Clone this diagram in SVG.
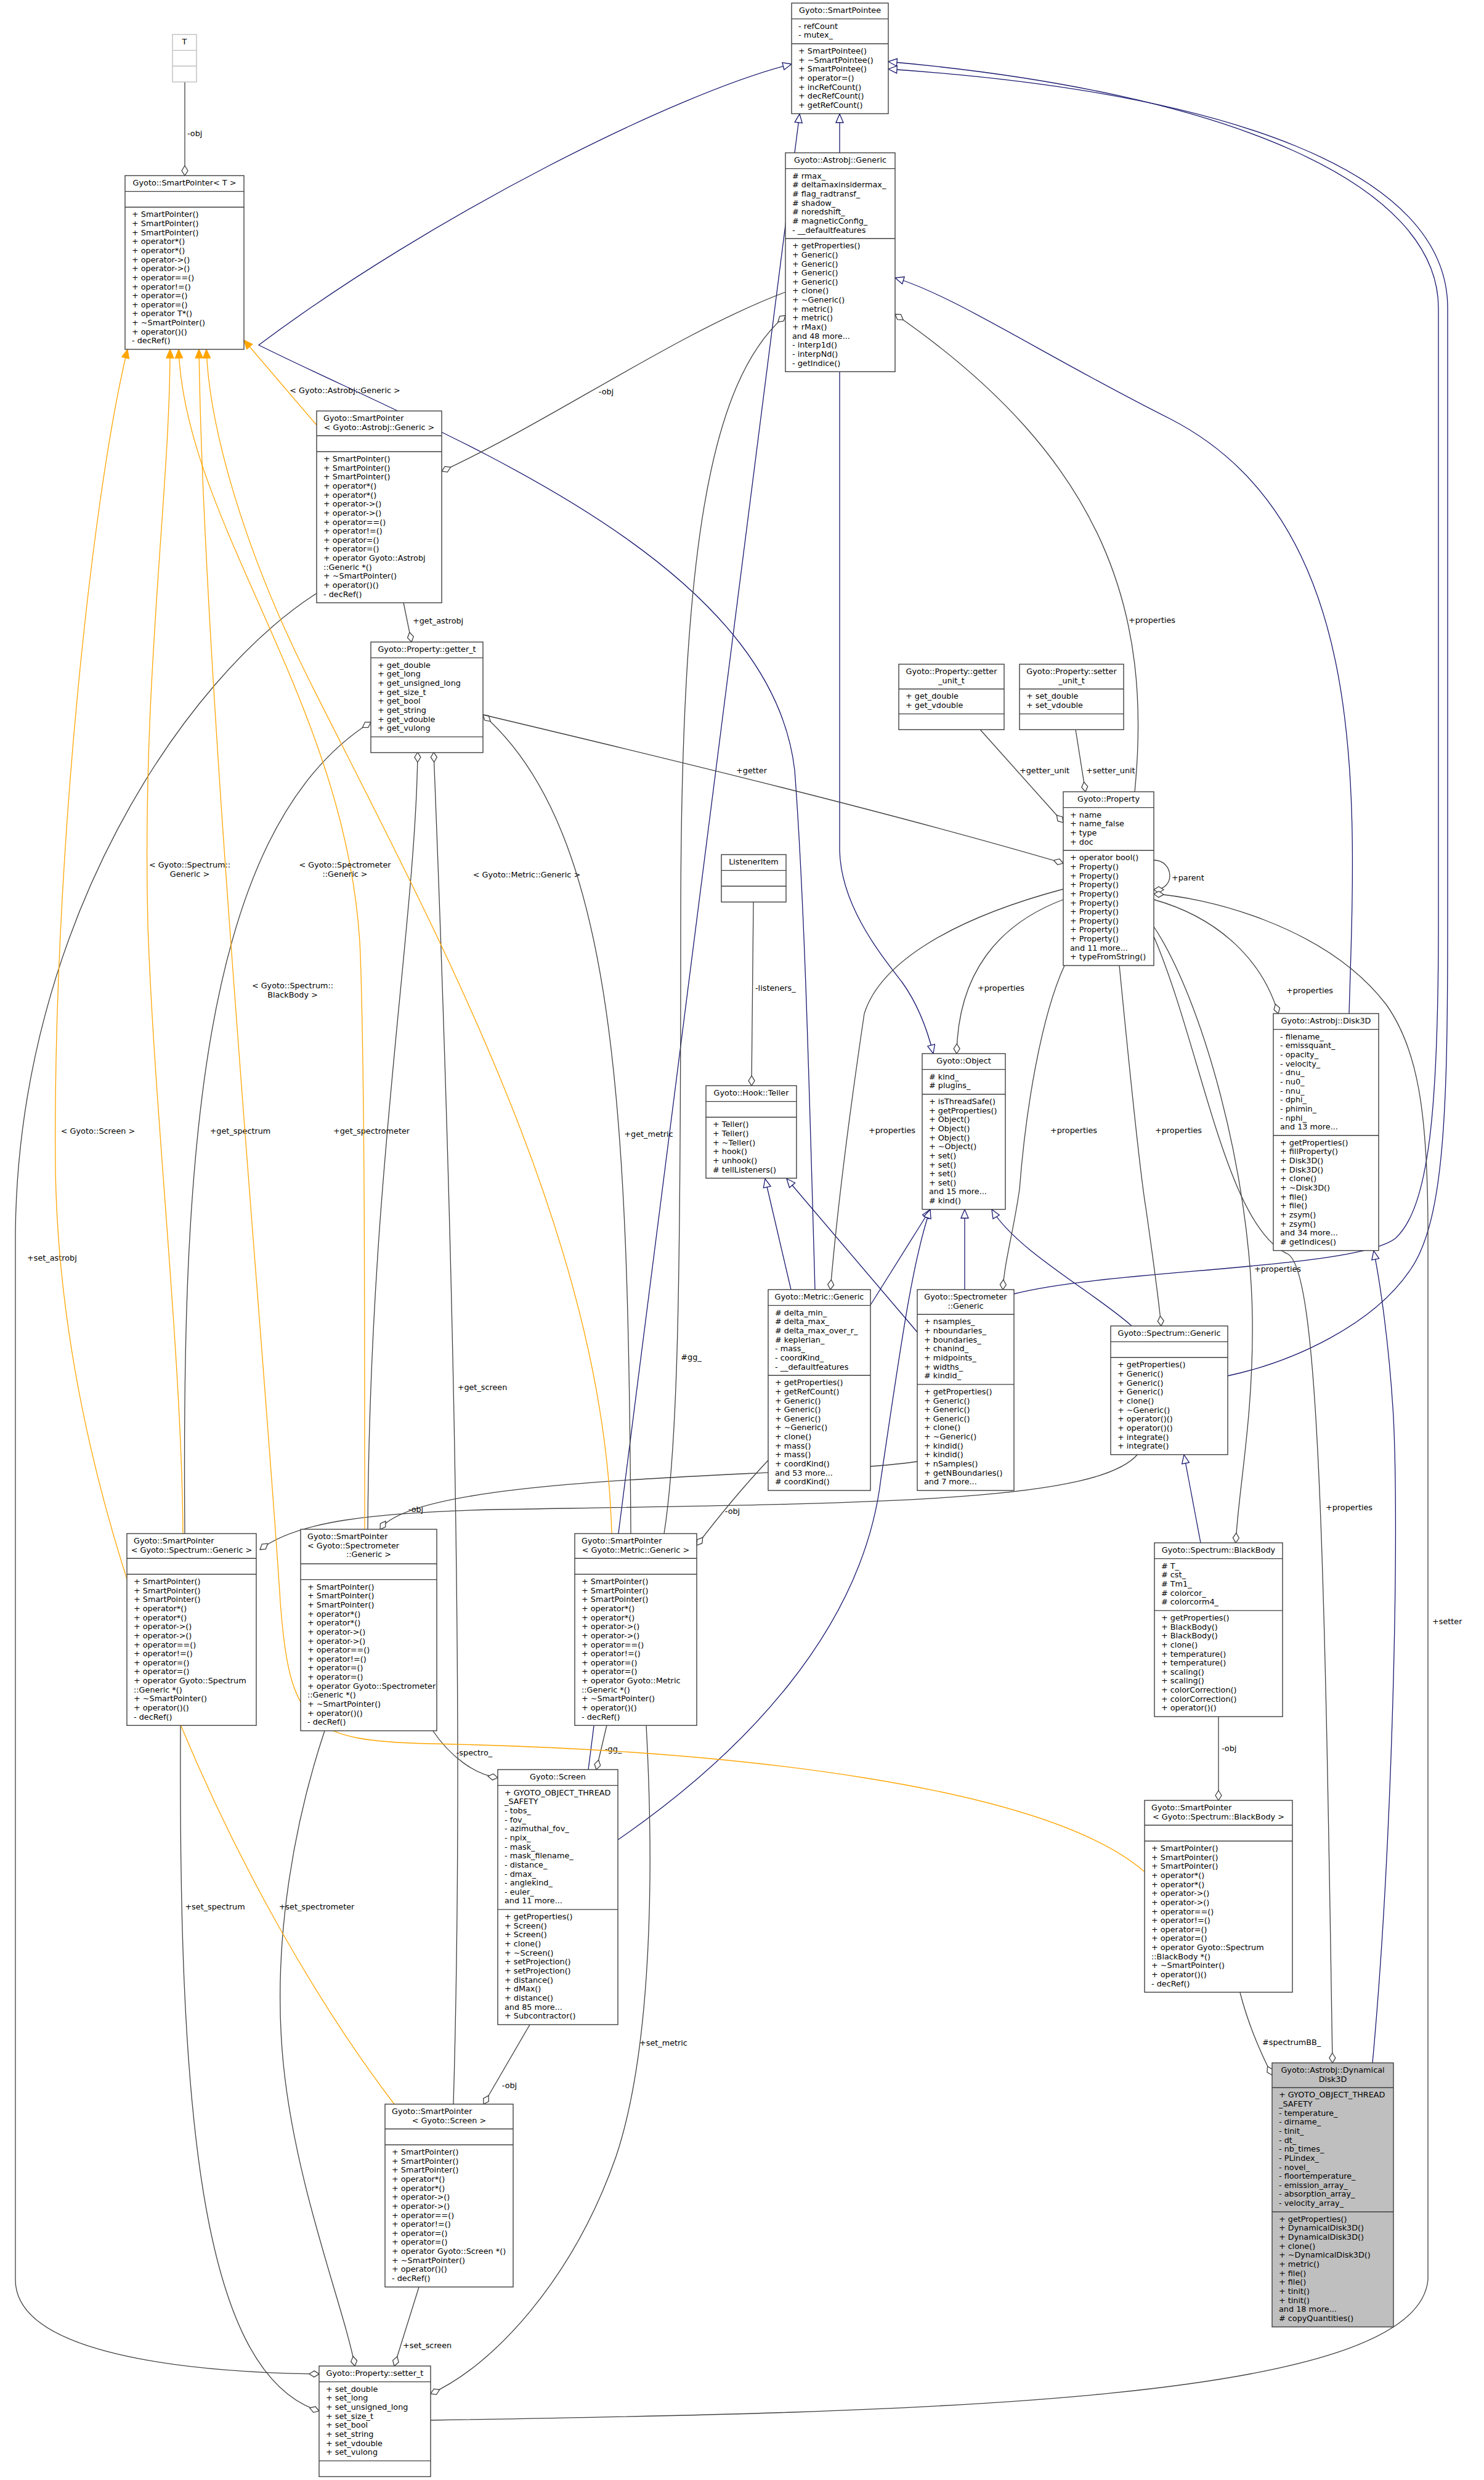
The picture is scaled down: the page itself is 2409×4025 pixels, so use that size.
<svg xmlns="http://www.w3.org/2000/svg" width="2409" height="4025" viewBox="0 0 2409 4025">
<style>
text{font-family:"DejaVu Sans","Liberation Sans",sans-serif;font-size:12.8px;fill:#000}
.c{text-anchor:middle}
.box{fill:#fff;stroke:#404040;stroke-width:1.4}
.sep{fill:none;stroke:#404040;stroke-width:1.4}
.inh{fill:none;stroke:#191970;stroke-width:1.3;marker-end:url(#tri)}
.agg{fill:none;stroke:#404040;stroke-width:1.3;marker-end:url(#dia)}
.tpl{fill:none;stroke:#ffa500;stroke-width:1.3;marker-end:url(#otri)}
</style>
<defs>
<marker id="tri" markerUnits="userSpaceOnUse" markerWidth="16" markerHeight="14" viewBox="-1 -1 16 14" refX="14" refY="6" orient="auto"><path d="M0,0 L14,6 L0,12 z" fill="#fff" stroke="#191970" stroke-width="1.3"/></marker>
<marker id="dia" markerUnits="userSpaceOnUse" markerWidth="18" markerHeight="12" viewBox="-1 -1 18 12" refX="16" refY="5" orient="auto"><path d="M0,5 L8,0 L16,5 L8,10 z" fill="#fff" stroke="#404040" stroke-width="1.3"/></marker>
<marker id="otri" markerUnits="userSpaceOnUse" markerWidth="16" markerHeight="14" viewBox="-1 -1 16 14" refX="14" refY="6" orient="auto"><path d="M0,0 L14,6 L0,12 z" fill="#ffa500" stroke="#ffa500" stroke-width="1.3"/></marker>
</defs>
<rect width="2409" height="4025" fill="#fff"/>

<g id="edges">
<path class="inh" d="M1363,248 L1363,185"/>
<path class="inh" d="M1363,603 L1363,1380 C1365,1470 1430,1550 1465,1595 C1490,1630 1505,1670 1515,1710"/>
<path class="inh" d="M1323,2093 C1312,1700 1305,1450 1290,1250 C1250,900 700,700 420,560 C700,350 1100,150 1285,104"/>
<path class="inh" d="M1413,2118 L1510,1963"/>
<path class="inh" d="M1284,2093 L1242,1913"/>
<path class="inh" d="M1489,2162 L1277,1913"/>
<path class="inh" d="M1566,2093 L1566,1963"/>
<path class="inh" d="M1646,2100 C1800,2060 2200,2060 2265,2010 C2320,1960 2335,1800 2335,1500 L2335,500 C2335,300 2000,150 1442,100"/>
<path class="inh" d="M1837,2152 C1780,2100 1650,2030 1610,1963"/>
<path class="inh" d="M1993,2233 C2100,2210 2230,2150 2290,2060 C2345,1980 2350,1800 2350,1500 L2350,500 C2350,280 2000,150 1442,112"/>
<path class="inh" d="M1949,2504 L1922,2361"/>
<path class="inh" d="M955,2872 L1298,185"/>
<path class="inh" d="M1003,2986 C1200,2850 1400,2650 1430,2400 C1460,2200 1480,2050 1510,1963"/>
<path class="inh" d="M2190,1645 C2200,1300 2230,850 1900,680 C1700,580 1550,480 1453,451"/>
<path class="inh" d="M2228,3348 C2260,3000 2272,2500 2262,2300 C2255,2180 2240,2080 2230,2030"/>

<path class="agg" d="M300,133 L300,285"/>
<text x="304" y="221">-obj</text>
<path class="agg" d="M1275,474 C1100,540 900,680 717,765"/>
<text class="c" x="984" y="640">-obj</text>
<path class="agg" d="M655,978 L668,1042"/>
<text x="670" y="1012">+get_astrobj</text>
<path class="agg" d="M300,2489 C295,1900 320,1350 602,1172"/>
<text class="c" x="390" y="1840">+get_spectrum</text>
<path class="agg" d="M597,2482 C600,1900 675,1500 678,1221"/>
<text class="c" x="603" y="1840">+get_spectrometer</text>
<path class="agg" d="M736,3415 C760,2600 715,1500 704,1221"/>
<text class="c" x="783" y="2256">+get_screen</text>
<path class="agg" d="M1024,2489 C1020,1800 1000,1350 784,1160"/>
<text class="c" x="1053" y="1845">+get_metric</text>
<path class="agg" d="M784,1160 C1100,1235 1450,1320 1726,1401"/>
<text class="c" x="1220" y="1255">+getter</text>
<path class="agg" d="M1591,1184 L1726,1335"/>
<text x="1655" y="1255">+getter_unit</text>
<path class="agg" d="M1746,1184 L1762,1285"/>
<text x="1763" y="1255">+setter_unit</text>
<path class="agg" d="M1873,1396 C1905,1396 1910,1444 1873,1444"/>
<text x="1902" y="1429">+parent</text>
<path class="agg" d="M1842,1285 C1870,1000 1800,750 1453,510"/>
<text class="c" x="1870" y="1011">+properties</text>
<path class="agg" d="M1726,1460 C1620,1500 1555,1580 1553,1710"/>
<text x="1587" y="1608">+properties</text>
<path class="agg" d="M1726,1443 C1550,1490 1430,1560 1403,1645 C1380,1800 1360,1950 1348,2093"/>
<text x="1410" y="1839">+properties</text>
<path class="agg" d="M1728,1567 C1690,1650 1665,1800 1655,1930 C1645,2000 1630,2050 1628,2093"/>
<text x="1705" y="1839">+properties</text>
<path class="agg" d="M1817,1567 C1830,1700 1850,1900 1860,1960 C1870,2030 1880,2100 1885,2152"/>
<text x="1875" y="1839">+properties</text>
<path class="agg" d="M1873,1504 C1950,1620 2030,1900 2033,2140 C2035,2300 2010,2420 2006,2504"/>
<text x="2036" y="2064">+properties</text>
<path class="agg" d="M1873,1520 C1950,1700 1990,1990 2090,2035 C2140,2060 2150,2500 2163,3348"/>
<text class="c" x="2190" y="2451">+properties</text>
<path class="agg" d="M1873,1460 C1980,1490 2050,1560 2075,1645"/>
<text class="c" x="2126" y="1612">+properties</text>
<path class="agg" d="M699,3928 C1500,3915 2300,3900 2318,3700 L2318,2000 C2318,1800 2300,1700 2250,1630 C2150,1500 1950,1455 1873,1451"/>
<text x="2325" y="2636">+setter</text>
<path class="agg" d="M1223,1464 L1220,1762"/>
<text x="1226" y="1608">-listeners_</text>
<path class="agg" d="M1978,2786 L1978,2922"/>
<text x="1983" y="2842">-obj</text>
<path class="agg" d="M2013,3234 Q2030,3300 2065,3368"/>
<text x="2049" y="3319">#spectrumBB_</text>
<path class="agg" d="M1078,2489 C1100,2350 1105,2100 1105,1500 C1105,900 1150,620 1275,512"/>
<text class="c" x="1122" y="2207">#gg_</text>
<path class="agg" d="M1247,2370 C1200,2420 1160,2470 1131,2508"/>
<text class="c" x="1189" y="2457">-obj</text>
<path class="agg" d="M1489,2372 C1300,2400 680,2390 617,2482"/>
<text class="c" x="675" y="2454">-obj</text>
<path class="agg" d="M1847,2360 C1780,2440 1400,2440 800,2450 C600,2455 480,2470 422,2515"/>
<path class="agg" d="M985,2800 L968,2872"/>
<text x="982" y="2843">-gg_</text>
<path class="agg" d="M702,2808 C730,2850 770,2880 808,2885"/>
<text class="c" x="770" y="2849">-spectro_</text>
<path class="agg" d="M860,3286 L785,3415"/>
<text class="c" x="827" y="3389">-obj</text>
<path class="agg" d="M680,3712 L640,3840"/>
<text x="654" y="3811">+set_screen</text>
<path class="agg" d="M1049,2800 C1065,3100 1050,3350 1000,3500 C930,3700 800,3840 699,3885"/>
<text x="1038" y="3320">+set_metric</text>
<path class="agg" d="M527,2809 C480,2950 440,3150 460,3350 C480,3550 560,3750 576,3840"/>
<text class="c" x="514" y="3099">+set_spectrometer</text>
<path class="agg" d="M293,2800 C290,3400 320,3850 518,3913"/>
<text class="c" x="349" y="3099">+set_spectrum</text>
<path class="agg" d="M514,963 C300,1100 30,1500 25,2000 L25,3700 C25,3820 300,3850 518,3853"/>
<text x="44" y="2046">+set_astrobj</text>

<path class="tpl" d="M514,690 L396,552"/>
<text class="c" x="560" y="638">&lt; Gyoto::Astrobj::Generic &gt;</text>
<path class="tpl" d="M297,2489 C295,2200 250,1800 240,1500 C230,1100 276,800 276,567"/>
<text class="c" x="308" y="1408">&lt; Gyoto::Spectrum::</text><text class="c" x="308" y="1423">Generic &gt;</text>
<path class="tpl" d="M592,2482 C592,2100 592,1750 585,1550 C570,1150 300,850 290,567"/>
<text class="c" x="560" y="1408">&lt; Gyoto::Spectrometer</text><text class="c" x="560" y="1423">::Generic &gt;</text>
<path class="tpl" d="M1858,3038 C1700,2900 1200,2840 700,2830 C500,2826 470,2800 455,2600 C430,2200 330,1100 323,567"/>
<text class="c" x="475" y="1604">&lt; Gyoto::Spectrum::</text><text class="c" x="475" y="1619">BlackBody &gt;</text>
<path class="tpl" d="M993,2489 C980,2000 700,1500 500,1100 C400,900 340,700 335,567"/>
<text class="c" x="855" y="1424">&lt; Gyoto::Metric::Generic &gt;</text>
<path class="tpl" d="M640,3415 C400,3100 100,2500 90,1900 C85,1400 150,800 207,567"/>
<text class="c" x="159" y="1840">&lt; Gyoto::Screen &gt;</text>
</g>

<g id="n_T"><rect x="280" y="56" width="39" height="77" fill="#fff" stroke="#bfbfbf" stroke-width="1.4"/><path d="M280,81.65h39M280,107.3h39" stroke="#bfbfbf" stroke-width="1.4"/><text class="c" x="299.5" y="72">T</text></g>

<g id="n_SmartPointerT"><rect class="box" x="203" y="285" width="193" height="282"/><path class="sep" d="M203,310.65h193M203,336.3h193"/><text class="c" x="299.5" y="301">Gyoto::SmartPointer&lt; T &gt;</text>
<text x="214" y="352.3"><tspan x="214">+ SmartPointer()</tspan><tspan x="214" dy="14.65">+ SmartPointer()</tspan><tspan x="214" dy="14.65">+ SmartPointer()</tspan><tspan x="214" dy="14.65">+ operator*()</tspan><tspan x="214" dy="14.65">+ operator*()</tspan><tspan x="214" dy="14.65">+ operator-&gt;()</tspan><tspan x="214" dy="14.65">+ operator-&gt;()</tspan><tspan x="214" dy="14.65">+ operator==()</tspan><tspan x="214" dy="14.65">+ operator!=()</tspan><tspan x="214" dy="14.65">+ operator=()</tspan><tspan x="214" dy="14.65">+ operator=()</tspan><tspan x="214" dy="14.65">+ operator T*()</tspan><tspan x="214" dy="14.65">+ ~SmartPointer()</tspan><tspan x="214" dy="14.65">+ operator()()</tspan><tspan x="214" dy="14.65">- decRef()</tspan></text></g>

<g id="n_SmartPointee"><rect class="box" x="1285" y="5" width="157" height="179.5"/><path class="sep" d="M1285,30.65h157M1285,70.95h157"/><text class="c" x="1363.5" y="21">Gyoto::SmartPointee</text>
<text x="1296" y="46.65"><tspan x="1296">- refCount</tspan><tspan x="1296" dy="14.65">- mutex_</tspan></text>
<text x="1296" y="86.95"><tspan x="1296">+ SmartPointee()</tspan><tspan x="1296" dy="14.65">+ ~SmartPointee()</tspan><tspan x="1296" dy="14.65">+ SmartPointee()</tspan><tspan x="1296" dy="14.65">+ operator=()</tspan><tspan x="1296" dy="14.65">+ incRefCount()</tspan><tspan x="1296" dy="14.65">+ decRefCount()</tspan><tspan x="1296" dy="14.65">+ getRefCount()</tspan></text></g>

<g id="n_AstrobjGeneric"><rect class="box" x="1275" y="248" width="178" height="355.3"/><path class="sep" d="M1275,273.65h178M1275,387.2h178"/><text class="c" x="1364" y="264">Gyoto::Astrobj::Generic</text>
<text x="1286" y="289.65"><tspan x="1286"># rmax_</tspan><tspan x="1286" dy="14.65"># deltamaxinsidermax_</tspan><tspan x="1286" dy="14.65"># flag_radtransf_</tspan><tspan x="1286" dy="14.65"># shadow_</tspan><tspan x="1286" dy="14.65"># noredshift_</tspan><tspan x="1286" dy="14.65"># magneticConfig_</tspan><tspan x="1286" dy="14.65">- __defaultfeatures</tspan></text>
<text x="1286" y="403.2"><tspan x="1286">+ getProperties()</tspan><tspan x="1286" dy="14.65">+ Generic()</tspan><tspan x="1286" dy="14.65">+ Generic()</tspan><tspan x="1286" dy="14.65">+ Generic()</tspan><tspan x="1286" dy="14.65">+ Generic()</tspan><tspan x="1286" dy="14.65">+ clone()</tspan><tspan x="1286" dy="14.65">+ ~Generic()</tspan><tspan x="1286" dy="14.65">+ metric()</tspan><tspan x="1286" dy="14.65">+ metric()</tspan><tspan x="1286" dy="14.65">+ rMax()</tspan><tspan x="1286" dy="14.65">and 48 more...</tspan><tspan x="1286" dy="14.65">- interp1d()</tspan><tspan x="1286" dy="14.65">- interpNd()</tspan><tspan x="1286" dy="14.65">- getIndice()</tspan></text></g>

<g id="n_SP_Astrobj"><rect class="box" x="514" y="667" width="203" height="311.35"/><path class="sep" d="M514,707.3h203M514,732.95h203"/><text x="525" y="683">Gyoto::SmartPointer</text><text class="c" x="615.5" y="697.65">&lt; Gyoto::Astrobj::Generic &gt;</text>
<text x="525" y="748.95"><tspan x="525">+ SmartPointer()</tspan><tspan x="525" dy="14.65">+ SmartPointer()</tspan><tspan x="525" dy="14.65">+ SmartPointer()</tspan><tspan x="525" dy="14.65">+ operator*()</tspan><tspan x="525" dy="14.65">+ operator*()</tspan><tspan x="525" dy="14.65">+ operator-&gt;()</tspan><tspan x="525" dy="14.65">+ operator-&gt;()</tspan><tspan x="525" dy="14.65">+ operator==()</tspan><tspan x="525" dy="14.65">+ operator!=()</tspan><tspan x="525" dy="14.65">+ operator=()</tspan><tspan x="525" dy="14.65">+ operator=()</tspan><tspan x="525" dy="14.65">+ operator Gyoto::Astrobj</tspan><tspan x="525" dy="14.65">::Generic *()</tspan><tspan x="525" dy="14.65">+ ~SmartPointer()</tspan><tspan x="525" dy="14.65">+ operator()()</tspan><tspan x="525" dy="14.65">- decRef()</tspan></text></g>

<g id="n_getter_t"><rect class="box" x="602" y="1042" width="182" height="179.5"/><path class="sep" d="M602,1067.65h182M602,1195.85h182"/><text class="c" x="693" y="1058">Gyoto::Property::getter_t</text>
<text x="613" y="1083.65"><tspan x="613">+ get_double</tspan><tspan x="613" dy="14.65">+ get_long</tspan><tspan x="613" dy="14.65">+ get_unsigned_long</tspan><tspan x="613" dy="14.65">+ get_size_t</tspan><tspan x="613" dy="14.65">+ get_bool</tspan><tspan x="613" dy="14.65">+ get_string</tspan><tspan x="613" dy="14.65">+ get_vdouble</tspan><tspan x="613" dy="14.65">+ get_vulong</tspan></text></g>

<g id="n_getter_unit_t"><rect class="box" x="1459" y="1078" width="171" height="106.25"/><path class="sep" d="M1459,1118.3h171M1459,1158.6h171"/><text class="c" x="1544.5" y="1094">Gyoto::Property::getter</text><text class="c" x="1544.5" y="1108.65">_unit_t</text>
<text x="1470" y="1134.3"><tspan x="1470">+ get_double</tspan><tspan x="1470" dy="14.65">+ get_vdouble</tspan></text></g>

<g id="n_setter_unit_t"><rect class="box" x="1655" y="1078" width="169" height="106.25"/><path class="sep" d="M1655,1118.3h169M1655,1158.6h169"/><text class="c" x="1739.5" y="1094">Gyoto::Property::setter</text><text class="c" x="1739.5" y="1108.65">_unit_t</text>
<text x="1666" y="1134.3"><tspan x="1666">+ set_double</tspan><tspan x="1666" dy="14.65">+ set_vdouble</tspan></text></g>

<g id="n_ListenerItem"><rect class="box" x="1171" y="1387" width="105" height="76.95"/><path class="sep" d="M1171,1412.65h105M1171,1438.3h105"/><text class="c" x="1223.5" y="1403">ListenerItem</text></g>

<g id="n_Property"><rect class="box" x="1726" y="1285" width="147" height="282.05"/><path class="sep" d="M1726,1310.65h147M1726,1380.25h147"/><text class="c" x="1799.5" y="1301">Gyoto::Property</text>
<text x="1737" y="1326.65"><tspan x="1737">+ name</tspan><tspan x="1737" dy="14.65">+ name_false</tspan><tspan x="1737" dy="14.65">+ type</tspan><tspan x="1737" dy="14.65">+ doc</tspan></text>
<text x="1737" y="1396.25"><tspan x="1737">+ operator bool()</tspan><tspan x="1737" dy="14.65">+ Property()</tspan><tspan x="1737" dy="14.65">+ Property()</tspan><tspan x="1737" dy="14.65">+ Property()</tspan><tspan x="1737" dy="14.65">+ Property()</tspan><tspan x="1737" dy="14.65">+ Property()</tspan><tspan x="1737" dy="14.65">+ Property()</tspan><tspan x="1737" dy="14.65">+ Property()</tspan><tspan x="1737" dy="14.65">+ Property()</tspan><tspan x="1737" dy="14.65">+ Property()</tspan><tspan x="1737" dy="14.65">and 11 more...</tspan><tspan x="1737" dy="14.65">+ typeFromString()</tspan></text></g>

<g id="n_Teller"><rect class="box" x="1146" y="1762" width="147" height="150.2"/><path class="sep" d="M1146,1787.65h147M1146,1813.3h147"/><text class="c" x="1219.5" y="1778">Gyoto::Hook::Teller</text>
<text x="1157" y="1829.3"><tspan x="1157">+ Teller()</tspan><tspan x="1157" dy="14.65">+ Teller()</tspan><tspan x="1157" dy="14.65">+ ~Teller()</tspan><tspan x="1157" dy="14.65">+ hook()</tspan><tspan x="1157" dy="14.65">+ unhook()</tspan><tspan x="1157" dy="14.65"># tellListeners()</tspan></text></g>

<g id="n_Object"><rect class="box" x="1497" y="1710" width="135" height="252.75"/><path class="sep" d="M1497,1735.65h135M1497,1775.95h135"/><text class="c" x="1564.5" y="1726">Gyoto::Object</text>
<text x="1508" y="1751.65"><tspan x="1508"># kind_</tspan><tspan x="1508" dy="14.65"># plugins_</tspan></text>
<text x="1508" y="1791.95"><tspan x="1508">+ isThreadSafe()</tspan><tspan x="1508" dy="14.65">+ getProperties()</tspan><tspan x="1508" dy="14.65">+ Object()</tspan><tspan x="1508" dy="14.65">+ Object()</tspan><tspan x="1508" dy="14.65">+ Object()</tspan><tspan x="1508" dy="14.65">+ ~Object()</tspan><tspan x="1508" dy="14.65">+ set()</tspan><tspan x="1508" dy="14.65">+ set()</tspan><tspan x="1508" dy="14.65">+ set()</tspan><tspan x="1508" dy="14.65">+ set()</tspan><tspan x="1508" dy="14.65">and 15 more...</tspan><tspan x="1508" dy="14.65"># kind()</tspan></text></g>

<g id="n_Disk3D"><rect class="box" x="2067" y="1645" width="171" height="384.6"/><path class="sep" d="M2067,1670.65h171M2067,1842.8h171"/><text class="c" x="2152.5" y="1661">Gyoto::Astrobj::Disk3D</text>
<text x="2078" y="1686.65"><tspan x="2078">- filename_</tspan><tspan x="2078" dy="14.65">- emissquant_</tspan><tspan x="2078" dy="14.65">- opacity_</tspan><tspan x="2078" dy="14.65">- velocity_</tspan><tspan x="2078" dy="14.65">- dnu_</tspan><tspan x="2078" dy="14.65">- nu0_</tspan><tspan x="2078" dy="14.65">- nnu_</tspan><tspan x="2078" dy="14.65">- dphi_</tspan><tspan x="2078" dy="14.65">- phimin_</tspan><tspan x="2078" dy="14.65">- nphi_</tspan><tspan x="2078" dy="14.65">and 13 more...</tspan></text>
<text x="2078" y="1858.8"><tspan x="2078">+ getProperties()</tspan><tspan x="2078" dy="14.65">+ fillProperty()</tspan><tspan x="2078" dy="14.65">+ Disk3D()</tspan><tspan x="2078" dy="14.65">+ Disk3D()</tspan><tspan x="2078" dy="14.65">+ clone()</tspan><tspan x="2078" dy="14.65">+ ~Disk3D()</tspan><tspan x="2078" dy="14.65">+ file()</tspan><tspan x="2078" dy="14.65">+ file()</tspan><tspan x="2078" dy="14.65">+ zsym()</tspan><tspan x="2078" dy="14.65">+ zsym()</tspan><tspan x="2078" dy="14.65">and 34 more...</tspan><tspan x="2078" dy="14.65"># getIndices()</tspan></text></g>

<g id="n_MetricGeneric"><rect class="box" x="1247" y="2093" width="166" height="326"/><path class="sep" d="M1247,2118.65h166M1247,2232.2h166"/><text class="c" x="1330" y="2109">Gyoto::Metric::Generic</text>
<text x="1258" y="2134.65"><tspan x="1258"># delta_min_</tspan><tspan x="1258" dy="14.65"># delta_max_</tspan><tspan x="1258" dy="14.65"># delta_max_over_r_</tspan><tspan x="1258" dy="14.65"># keplerian_</tspan><tspan x="1258" dy="14.65">- mass_</tspan><tspan x="1258" dy="14.65">- coordKind_</tspan><tspan x="1258" dy="14.65">- __defaultfeatures</tspan></text>
<text x="1258" y="2248.2"><tspan x="1258">+ getProperties()</tspan><tspan x="1258" dy="14.65">+ getRefCount()</tspan><tspan x="1258" dy="14.65">+ Generic()</tspan><tspan x="1258" dy="14.65">+ Generic()</tspan><tspan x="1258" dy="14.65">+ Generic()</tspan><tspan x="1258" dy="14.65">+ ~Generic()</tspan><tspan x="1258" dy="14.65">+ clone()</tspan><tspan x="1258" dy="14.65">+ mass()</tspan><tspan x="1258" dy="14.65">+ mass()</tspan><tspan x="1258" dy="14.65">+ coordKind()</tspan><tspan x="1258" dy="14.65">and 53 more...</tspan><tspan x="1258" dy="14.65"># coordKind()</tspan></text></g>

<g id="n_SpectrometerGeneric"><rect class="box" x="1489" y="2093" width="157" height="326"/><path class="sep" d="M1489,2133.3h157M1489,2246.85h157"/><text class="c" x="1567.5" y="2109">Gyoto::Spectrometer</text><text class="c" x="1567.5" y="2123.65">::Generic</text>
<text x="1500" y="2149.3"><tspan x="1500">+ nsamples_</tspan><tspan x="1500" dy="14.65">+ nboundaries_</tspan><tspan x="1500" dy="14.65">+ boundaries_</tspan><tspan x="1500" dy="14.65">+ chanind_</tspan><tspan x="1500" dy="14.65">+ midpoints_</tspan><tspan x="1500" dy="14.65">+ widths_</tspan><tspan x="1500" dy="14.65"># kindid_</tspan></text>
<text x="1500" y="2262.85"><tspan x="1500">+ getProperties()</tspan><tspan x="1500" dy="14.65">+ Generic()</tspan><tspan x="1500" dy="14.65">+ Generic()</tspan><tspan x="1500" dy="14.65">+ Generic()</tspan><tspan x="1500" dy="14.65">+ clone()</tspan><tspan x="1500" dy="14.65">+ ~Generic()</tspan><tspan x="1500" dy="14.65">+ kindid()</tspan><tspan x="1500" dy="14.65">+ kindid()</tspan><tspan x="1500" dy="14.65">+ nSamples()</tspan><tspan x="1500" dy="14.65">+ getNBoundaries()</tspan><tspan x="1500" dy="14.65">and 7 more...</tspan></text></g>

<g id="n_SpectrumGeneric"><rect class="box" x="1803" y="2152" width="190" height="208.8"/><path class="sep" d="M1803,2177.65h190M1803,2203.3h190"/><text class="c" x="1898" y="2168">Gyoto::Spectrum::Generic</text>
<text x="1814" y="2219.3"><tspan x="1814">+ getProperties()</tspan><tspan x="1814" dy="14.65">+ Generic()</tspan><tspan x="1814" dy="14.65">+ Generic()</tspan><tspan x="1814" dy="14.65">+ Generic()</tspan><tspan x="1814" dy="14.65">+ clone()</tspan><tspan x="1814" dy="14.65">+ ~Generic()</tspan><tspan x="1814" dy="14.65">+ operator()()</tspan><tspan x="1814" dy="14.65">+ operator()()</tspan><tspan x="1814" dy="14.65">+ integrate()</tspan><tspan x="1814" dy="14.65">+ integrate()</tspan></text></g>

<g id="n_BlackBody"><rect class="box" x="1874" y="2504" width="208" height="282.05"/><path class="sep" d="M1874,2529.65h208M1874,2613.9h208"/><text class="c" x="1978" y="2520">Gyoto::Spectrum::BlackBody</text>
<text x="1885" y="2545.65"><tspan x="1885"># T_</tspan><tspan x="1885" dy="14.65"># cst_</tspan><tspan x="1885" dy="14.65"># Tm1_</tspan><tspan x="1885" dy="14.65"># colorcor_</tspan><tspan x="1885" dy="14.65"># colorcorm4_</tspan></text>
<text x="1885" y="2629.9"><tspan x="1885">+ getProperties()</tspan><tspan x="1885" dy="14.65">+ BlackBody()</tspan><tspan x="1885" dy="14.65">+ BlackBody()</tspan><tspan x="1885" dy="14.65">+ clone()</tspan><tspan x="1885" dy="14.65">+ temperature()</tspan><tspan x="1885" dy="14.65">+ temperature()</tspan><tspan x="1885" dy="14.65">+ scaling()</tspan><tspan x="1885" dy="14.65">+ scaling()</tspan><tspan x="1885" dy="14.65">+ colorCorrection()</tspan><tspan x="1885" dy="14.65">+ colorCorrection()</tspan><tspan x="1885" dy="14.65">+ operator()()</tspan></text></g>

<g id="n_SP_Spectrum"><rect class="box" x="206" y="2489" width="210" height="311.35"/><path class="sep" d="M206,2529.3h210M206,2554.95h210"/><text x="217" y="2505">Gyoto::SmartPointer</text><text class="c" x="311" y="2519.65">&lt; Gyoto::Spectrum::Generic &gt;</text>
<text x="217" y="2570.95"><tspan x="217">+ SmartPointer()</tspan><tspan x="217" dy="14.65">+ SmartPointer()</tspan><tspan x="217" dy="14.65">+ SmartPointer()</tspan><tspan x="217" dy="14.65">+ operator*()</tspan><tspan x="217" dy="14.65">+ operator*()</tspan><tspan x="217" dy="14.65">+ operator-&gt;()</tspan><tspan x="217" dy="14.65">+ operator-&gt;()</tspan><tspan x="217" dy="14.65">+ operator==()</tspan><tspan x="217" dy="14.65">+ operator!=()</tspan><tspan x="217" dy="14.65">+ operator=()</tspan><tspan x="217" dy="14.65">+ operator=()</tspan><tspan x="217" dy="14.65">+ operator Gyoto::Spectrum</tspan><tspan x="217" dy="14.65">::Generic *()</tspan><tspan x="217" dy="14.65">+ ~SmartPointer()</tspan><tspan x="217" dy="14.65">+ operator()()</tspan><tspan x="217" dy="14.65">- decRef()</tspan></text></g>

<g id="n_SP_Spectrometer"><rect class="box" x="488" y="2482" width="221" height="327"/><path class="sep" d="M488,2537.95h221M488,2563.6h221"/><text x="499" y="2498">Gyoto::SmartPointer</text><text x="499" y="2512.65">&lt; Gyoto::Spectrometer</text><text class="c" x="598.5" y="2527.3">::Generic &gt;</text>
<text x="499" y="2579.6"><tspan x="499">+ SmartPointer()</tspan><tspan x="499" dy="14.65">+ SmartPointer()</tspan><tspan x="499" dy="14.65">+ SmartPointer()</tspan><tspan x="499" dy="14.65">+ operator*()</tspan><tspan x="499" dy="14.65">+ operator*()</tspan><tspan x="499" dy="14.65">+ operator-&gt;()</tspan><tspan x="499" dy="14.65">+ operator-&gt;()</tspan><tspan x="499" dy="14.65">+ operator==()</tspan><tspan x="499" dy="14.65">+ operator!=()</tspan><tspan x="499" dy="14.65">+ operator=()</tspan><tspan x="499" dy="14.65">+ operator=()</tspan><tspan x="499" dy="14.65">+ operator Gyoto::Spectrometer</tspan><tspan x="499" dy="14.65">::Generic *()</tspan><tspan x="499" dy="14.65">+ ~SmartPointer()</tspan><tspan x="499" dy="14.65">+ operator()()</tspan><tspan x="499" dy="14.65">- decRef()</tspan></text></g>

<g id="n_SP_Metric"><rect class="box" x="933" y="2489" width="198" height="311.35"/><path class="sep" d="M933,2529.3h198M933,2554.95h198"/><text x="944" y="2505">Gyoto::SmartPointer</text><text class="c" x="1032" y="2519.65">&lt; Gyoto::Metric::Generic &gt;</text>
<text x="944" y="2570.95"><tspan x="944">+ SmartPointer()</tspan><tspan x="944" dy="14.65">+ SmartPointer()</tspan><tspan x="944" dy="14.65">+ SmartPointer()</tspan><tspan x="944" dy="14.65">+ operator*()</tspan><tspan x="944" dy="14.65">+ operator*()</tspan><tspan x="944" dy="14.65">+ operator-&gt;()</tspan><tspan x="944" dy="14.65">+ operator-&gt;()</tspan><tspan x="944" dy="14.65">+ operator==()</tspan><tspan x="944" dy="14.65">+ operator!=()</tspan><tspan x="944" dy="14.65">+ operator=()</tspan><tspan x="944" dy="14.65">+ operator=()</tspan><tspan x="944" dy="14.65">+ operator Gyoto::Metric</tspan><tspan x="944" dy="14.65">::Generic *()</tspan><tspan x="944" dy="14.65">+ ~SmartPointer()</tspan><tspan x="944" dy="14.65">+ operator()()</tspan><tspan x="944" dy="14.65">- decRef()</tspan></text></g>

<g id="n_Screen"><rect class="box" x="808" y="2872" width="195" height="413.9"/><path class="sep" d="M808,2897.65h195M808,3099.1h195"/><text class="c" x="905.5" y="2888">Gyoto::Screen</text>
<text x="819" y="2913.65"><tspan x="819">+ GYOTO_OBJECT_THREAD</tspan><tspan x="819" dy="14.65">_SAFETY</tspan><tspan x="819" dy="14.65">- tobs_</tspan><tspan x="819" dy="14.65">- fov_</tspan><tspan x="819" dy="14.65">- azimuthal_fov_</tspan><tspan x="819" dy="14.65">- npix_</tspan><tspan x="819" dy="14.65">- mask_</tspan><tspan x="819" dy="14.65">- mask_filename_</tspan><tspan x="819" dy="14.65">- distance_</tspan><tspan x="819" dy="14.65">- dmax_</tspan><tspan x="819" dy="14.65">- anglekind_</tspan><tspan x="819" dy="14.65">- euler_</tspan><tspan x="819" dy="14.65">and 11 more...</tspan></text>
<text x="819" y="3115.1"><tspan x="819">+ getProperties()</tspan><tspan x="819" dy="14.65">+ Screen()</tspan><tspan x="819" dy="14.65">+ Screen()</tspan><tspan x="819" dy="14.65">+ clone()</tspan><tspan x="819" dy="14.65">+ ~Screen()</tspan><tspan x="819" dy="14.65">+ setProjection()</tspan><tspan x="819" dy="14.65">+ setProjection()</tspan><tspan x="819" dy="14.65">+ distance()</tspan><tspan x="819" dy="14.65">+ dMax()</tspan><tspan x="819" dy="14.65">+ distance()</tspan><tspan x="819" dy="14.65">and 85 more...</tspan><tspan x="819" dy="14.65">+ Subcontractor()</tspan></text></g>

<g id="n_SP_BlackBody"><rect class="box" x="1858" y="2922" width="240" height="311.35"/><path class="sep" d="M1858,2962.3h240M1858,2987.95h240"/><text x="1869" y="2938">Gyoto::SmartPointer</text><text class="c" x="1978" y="2952.65">&lt; Gyoto::Spectrum::BlackBody &gt;</text>
<text x="1869" y="3003.95"><tspan x="1869">+ SmartPointer()</tspan><tspan x="1869" dy="14.65">+ SmartPointer()</tspan><tspan x="1869" dy="14.65">+ SmartPointer()</tspan><tspan x="1869" dy="14.65">+ operator*()</tspan><tspan x="1869" dy="14.65">+ operator*()</tspan><tspan x="1869" dy="14.65">+ operator-&gt;()</tspan><tspan x="1869" dy="14.65">+ operator-&gt;()</tspan><tspan x="1869" dy="14.65">+ operator==()</tspan><tspan x="1869" dy="14.65">+ operator!=()</tspan><tspan x="1869" dy="14.65">+ operator=()</tspan><tspan x="1869" dy="14.65">+ operator=()</tspan><tspan x="1869" dy="14.65">+ operator Gyoto::Spectrum</tspan><tspan x="1869" dy="14.65">::BlackBody *()</tspan><tspan x="1869" dy="14.65">+ ~SmartPointer()</tspan><tspan x="1869" dy="14.65">+ operator()()</tspan><tspan x="1869" dy="14.65">- decRef()</tspan></text></g>

<g id="n_DynamicalDisk3D"><rect x="2065" y="3348" width="197" height="428.55" fill="#bfbfbf" stroke="#404040" stroke-width="1.4"/><path class="sep" d="M2065,3388.3h197M2065,3589.75h197"/><text class="c" x="2163.5" y="3364">Gyoto::Astrobj::Dynamical</text><text class="c" x="2163.5" y="3378.65">Disk3D</text>
<text x="2076" y="3404.3"><tspan x="2076">+ GYOTO_OBJECT_THREAD</tspan><tspan x="2076" dy="14.65">_SAFETY</tspan><tspan x="2076" dy="14.65">- temperature_</tspan><tspan x="2076" dy="14.65">- dirname_</tspan><tspan x="2076" dy="14.65">- tinit_</tspan><tspan x="2076" dy="14.65">- dt_</tspan><tspan x="2076" dy="14.65">- nb_times_</tspan><tspan x="2076" dy="14.65">- PLindex_</tspan><tspan x="2076" dy="14.65">- novel_</tspan><tspan x="2076" dy="14.65">- floortemperature_</tspan><tspan x="2076" dy="14.65">- emission_array_</tspan><tspan x="2076" dy="14.65">- absorption_array_</tspan><tspan x="2076" dy="14.65">- velocity_array_</tspan></text>
<text x="2076" y="3605.75"><tspan x="2076">+ getProperties()</tspan><tspan x="2076" dy="14.65">+ DynamicalDisk3D()</tspan><tspan x="2076" dy="14.65">+ DynamicalDisk3D()</tspan><tspan x="2076" dy="14.65">+ clone()</tspan><tspan x="2076" dy="14.65">+ ~DynamicalDisk3D()</tspan><tspan x="2076" dy="14.65">+ metric()</tspan><tspan x="2076" dy="14.65">+ file()</tspan><tspan x="2076" dy="14.65">+ file()</tspan><tspan x="2076" dy="14.65">+ tinit()</tspan><tspan x="2076" dy="14.65">+ tinit()</tspan><tspan x="2076" dy="14.65">and 18 more...</tspan><tspan x="2076" dy="14.65"># copyQuantities()</tspan></text></g>

<g id="n_SP_Screen"><rect class="box" x="625" y="3415" width="208" height="296.7"/><path class="sep" d="M625,3455.3h208M625,3480.95h208"/><text x="636" y="3431">Gyoto::SmartPointer</text><text class="c" x="729" y="3445.65">&lt; Gyoto::Screen &gt;</text>
<text x="636" y="3496.95"><tspan x="636">+ SmartPointer()</tspan><tspan x="636" dy="14.65">+ SmartPointer()</tspan><tspan x="636" dy="14.65">+ SmartPointer()</tspan><tspan x="636" dy="14.65">+ operator*()</tspan><tspan x="636" dy="14.65">+ operator*()</tspan><tspan x="636" dy="14.65">+ operator-&gt;()</tspan><tspan x="636" dy="14.65">+ operator-&gt;()</tspan><tspan x="636" dy="14.65">+ operator==()</tspan><tspan x="636" dy="14.65">+ operator!=()</tspan><tspan x="636" dy="14.65">+ operator=()</tspan><tspan x="636" dy="14.65">+ operator=()</tspan><tspan x="636" dy="14.65">+ operator Gyoto::Screen *()</tspan><tspan x="636" dy="14.65">+ ~SmartPointer()</tspan><tspan x="636" dy="14.65">+ operator()()</tspan><tspan x="636" dy="14.65">- decRef()</tspan></text></g>

<g id="n_setter_t"><rect class="box" x="518" y="3840" width="181" height="179.5"/><path class="sep" d="M518,3865.65h181M518,3993.85h181"/><text class="c" x="608.5" y="3856">Gyoto::Property::setter_t</text>
<text x="529" y="3881.65"><tspan x="529">+ set_double</tspan><tspan x="529" dy="14.65">+ set_long</tspan><tspan x="529" dy="14.65">+ set_unsigned_long</tspan><tspan x="529" dy="14.65">+ set_size_t</tspan><tspan x="529" dy="14.65">+ set_bool</tspan><tspan x="529" dy="14.65">+ set_string</tspan><tspan x="529" dy="14.65">+ set_vdouble</tspan><tspan x="529" dy="14.65">+ set_vulong</tspan></text></g>
</svg>
